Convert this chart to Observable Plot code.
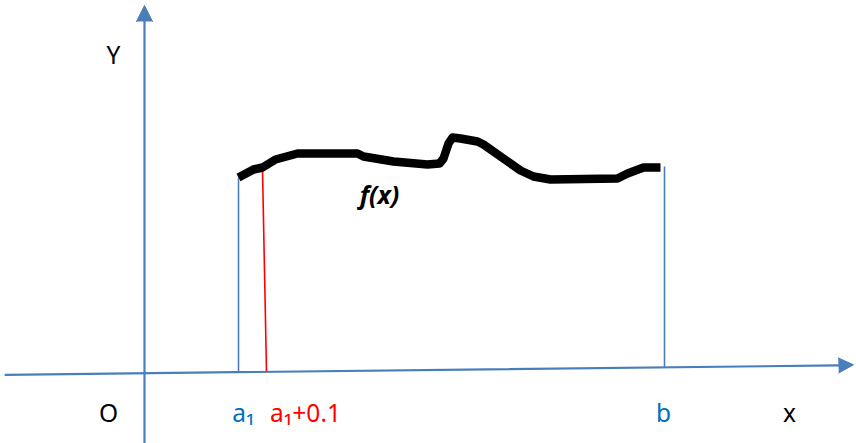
<!DOCTYPE html>
<html><head><meta charset="utf-8">
<script src="https://cdn.jsdelivr.net/npm/d3@7"></script>
<script src="https://cdn.jsdelivr.net/npm/@observablehq/plot@0.6"></script>
<style>body{margin:0;background:#fff}</style>
</head><body><div id="chart"></div>
<script>
// curve f(x) samples (diagram units, origin O)
const curveX = [94,109,118,131,153,213,219,249,283,295,299,304,308,316,333,339,376,389,406,473,483,499,516];
const curveY = [196,204,206,214,220,220,217,212,209,210,215,230,236,235,232,229,203,197,194,195,200,206,206];
// x axis (slightly tilted) and y axis
const xAxisX = [-139, 694];
const xAxisY = [-1.3, 8.1];
const xTip = [709, 8.7];
const yAxisX = [0, 0];
const yAxisY = [-72, 352];
const yTip = [0, 368];
// vertical segments: a1, a1+0.1, b
const segNames = ["a1", "a1+0.1", "b"];
const segX1 = [94, 122, 520];
const segY1 = [1, 2, 6];
const segX2 = [94, 118, 520];
const segY2 = [196, 204, 207];
// labels
const labelText = ["Y", "O", "a₁", "a₁+0.1", "b", "x"];
const labelX = [-31, -36, 99, 161, 519, 645];
const labelY = [317, -41, -41, -41, -41, -41];
const labelKind = ["black", "black", "blue", "red", "blue", "black"];
const fxLabel = {text: "f(x)", x: 235, y: 178};

const AX = "#4a7ebb";
const colorOf = {black: "#000", blue: "#0070c0", red: "#ff0000"};
const segColor = {"a1": AX, "a1+0.1": "#ff0000", "b": AX};

const curve = curveX.map((x, i) => ({x, y: curveY[i]}));
const xAxis = xAxisX.map((x, i) => ({x, y: xAxisY[i]}));
const yAxis = yAxisX.map((x, i) => ({x, y: yAxisY[i]}));
const segs = segNames.map((n, i) => ({n, x1: segX1[i], y1: segY1[i], x2: segX2[i], y2: segY2[i]}));
const labels = labelText.map((t, i) => ({t, x: labelX[i], y: labelY[i], c: colorOf[labelKind[i]]}));

// arrow heads derived from axis end and tip
function head(base, tip, half) {
  const dx = tip[0] - base.x, dy = tip[1] - base.y;
  const L = Math.hypot(dx, dy), nx = -dy / L * half, ny = dx / L * half;
  return [{x: base.x + nx, y: base.y + ny}, {x: tip[0], y: tip[1]}, {x: base.x - nx, y: base.y - ny}];
}
const xHead = head(xAxis[1], xTip, 7.5);
const yHead = head(yAxis[1], yTip, 8);

const plot = Plot.plot({
  width: 856, height: 443,
  margin: 0,
  x: {domain: [-144, 712], axis: null},
  y: {domain: [-70, 373], axis: null},
  style: {fontFamily: "'Liberation Sans', sans-serif", background: "#fff"},
  marks: [
    Plot.line(xAxis, {x: "x", y: "y", stroke: AX, strokeWidth: 2.2}),
    Plot.line(yAxis, {x: "x", y: "y", stroke: AX, strokeWidth: 2.2}),
    Plot.line(xHead, {x: "x", y: "y", fill: AX, stroke: AX, strokeWidth: 1}),
    Plot.line(yHead, {x: "x", y: "y", fill: AX, stroke: AX, strokeWidth: 1}),
    Plot.link(segs, {x1: "x1", y1: "y1", x2: "x2", y2: "y2", stroke: d => segColor[d.n], strokeWidth: 1.6}),
    Plot.line(curve, {x: "x", y: "y", stroke: "#000", strokeWidth: 8.5, strokeLinejoin: "round", strokeLinecap: "butt"}),
    Plot.text(labels, {x: "x", y: "y", text: "t", fill: d => d.c, fontSize: 24.5, fontFamily: "'Noto Sans', sans-serif"}),
    Plot.text([fxLabel], {x: "x", y: "y", text: "text", fontSize: 25, fontWeight: "bold", fontStyle: "italic", fill: "#000", fontFamily: "'Noto Sans', sans-serif"})
  ]
});
document.getElementById("chart").appendChild(plot);
</script>
</body></html>
